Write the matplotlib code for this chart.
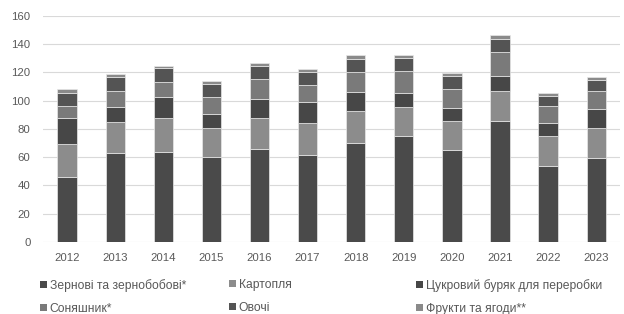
import numpy as np
import matplotlib.pyplot as plt
from matplotlib.patches import Patch

plt.rcParams['font.family'] = ['Liberation Sans', 'DejaVu Sans']

years = ['2012', '2013', '2014', '2015', '2016', '2017',
         '2018', '2019', '2020', '2021', '2022', '2023']

# production by crop group (stacked bottom -> top)
grain = [46.0, 62.7, 63.4, 59.8, 65.7, 61.7, 69.8, 75.0, 64.8, 85.6, 53.7, 59.4]
potato = [23.3, 22.4, 24.0, 21.1, 22.0, 22.3, 22.7, 20.3, 20.8, 21.5, 21.0, 21.5]
sugar_beet = [18.2, 10.6, 15.3, 9.7, 13.7, 14.9, 13.7, 9.9, 9.2, 10.6, 9.5, 13.2]
sunflower = [8.7, 11.2, 10.2, 11.8, 14.0, 12.2, 14.4, 15.6, 13.3, 16.6, 11.8, 13.0]
vegetables = [9.5, 9.7, 10.0, 9.2, 9.4, 9.5, 9.2, 9.5, 9.2, 9.5, 7.1, 7.6]
fruits = [2.3, 2.3, 1.6, 2.2, 1.9, 1.7, 2.4, 1.9, 2.1, 2.8, 2.1, 2.4]

labels = ['Зернові та зернобобові*', 'Картопля', 'Цукровий буряк для переробки',
          'Соняшник*', 'Овочі', 'Фрукти та ягоди**']
colors = ['#4a4a4a', '#8c8c8c', '#474747', '#7a7a7a', '#545454', '#8a8a8a']

series = [grain, potato, sugar_beet, sunflower, vegetables, fruits]

fig = plt.figure(figsize=(6.24, 3.14), dpi=100)
ax = fig.add_axes([0.069, 0.230, 0.925, 0.719])

x = np.arange(len(years))
bottom = np.zeros(len(years))
for vals, col in zip(series, colors):
    ax.bar(x, vals, width=0.4, bottom=bottom, color=col,
           edgecolor='#e8e8e8', linewidth=0.5, zorder=3)
    bottom += np.array(vals)

ax.set_xlim(-0.5, len(years) - 0.5)
ax.set_ylim(0, 160)
ax.set_yticks(range(0, 161, 20))
ax.set_xticks(x)
ax.set_xticklabels(years)
ax.yaxis.grid(True, color='#d9d9d9', linewidth=0.8, zorder=0)
for s in ax.spines.values():
    s.set_visible(False)
ax.tick_params(axis='both', length=0, labelsize=8.2, colors='#595959')
ax.tick_params(axis='y', pad=9)
ax.tick_params(axis='x', pad=8)

# legend laid out row-wise in three fixed columns
col_x = [0.064, 0.367, 0.667]
for i, cx in enumerate(col_x):
    handles = [Patch(facecolor=colors[i]), Patch(facecolor=colors[i + 3])]
    names = [labels[i], labels[i + 3]]
    fig.legend(handles, names, loc='upper left',
               bbox_to_anchor=(cx, 0.112), frameon=False,
               fontsize=8.7, handlelength=0.55, handleheight=0.55,
               handletextpad=0.25, labelspacing=0.9, borderaxespad=0,
               borderpad=0, labelcolor='#595959')

fig.savefig('out.png', dpi=100)
